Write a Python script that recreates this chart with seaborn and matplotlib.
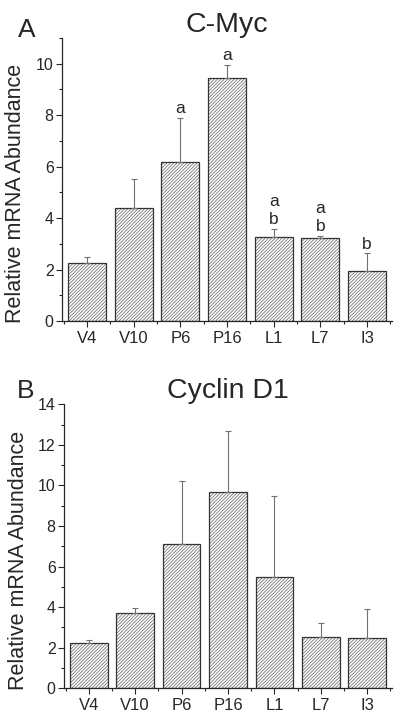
import numpy as np
import matplotlib
matplotlib.use("Agg")
import matplotlib.pyplot as plt
from matplotlib.ticker import MultipleLocator
import seaborn as sns

categories = ['V4', 'V10', 'P6', 'P16', 'L1', 'L7', 'I3']

myc_mean = [2.25, 4.41, 6.17, 9.43, 3.28, 3.23, 1.95]
myc_err = [0.22, 1.12, 1.73, 0.53, 0.31, 0.09, 0.69]
myc_letters = ['', '', 'a', 'a', 'a\nb', 'a\nb', 'b']

cyclin_mean = [2.25, 3.70, 7.11, 9.66, 5.47, 2.51, 2.46]
cyclin_err = [0.13, 0.26, 3.09, 3.02, 3.99, 0.72, 1.43]

sns.set_style("ticks")
plt.rcParams['font.family'] = ['Liberation Sans', 'DejaVu Sans']
plt.rcParams['hatch.linewidth'] = 0.55
plt.rcParams['axes.linewidth'] = 0.9


def draw_panel(ax, mean, err, title, ymax, letters=None):
    # hatch layer (gray lines) then the dark outline on top
    sns.barplot(x=categories, y=mean, ax=ax, color='white', width=0.81,
                edgecolor='#6e6e6e', linewidth=0, hatch='//////////')
    sns.barplot(x=categories, y=mean, ax=ax, fill=False, width=0.81,
                edgecolor='#333333', linewidth=0.9)
    ax.errorbar(np.arange(len(categories)), mean,
                yerr=[np.zeros(len(err)), err], fmt='none',
                ecolor='#707070', elinewidth=0.8, capsize=2.5, capthick=0.8)
    if letters is not None:
        for i, lab in enumerate(letters):
            if lab:
                ax.annotate(lab, (i, mean[i] + err[i]), xytext=(0, 1),
                            textcoords='offset points', ha='center', va='bottom',
                            fontsize=12.5, linespacing=1.3)
    ax.set_xlim(-0.535, len(categories) - 0.465)
    ax.set_ylim(0, ymax)
    ax.yaxis.set_major_locator(MultipleLocator(2))
    ax.yaxis.set_minor_locator(MultipleLocator(1))
    ax.xaxis.set_minor_locator(MultipleLocator(1, offset=0.5))
    ax.tick_params(which='major', direction='out', length=4, width=0.8, labelsize=11.5, pad=2)
    ax.tick_params(which='minor', direction='out', length=2.5, width=0.8)
    ax.tick_params(axis='x', which='major', pad=3, labelsize=12)
    sns.despine(ax=ax)
    ax.set_title(title, fontsize=20.5, pad=3)
    ax.set_ylabel('Relative mRNA Abundance', fontsize=15.5)
    ax.yaxis.set_label_coords(-0.108, 0.45)


fig = plt.figure(figsize=(4.0, 7.18), dpi=100)
ax_a = fig.add_axes([0.155, 0.553, 0.825, 0.394])
ax_b = fig.add_axes([0.160, 0.0414, 0.820, 0.3956])

draw_panel(ax_a, myc_mean, myc_err, 'C-Myc', 11, myc_letters)
draw_panel(ax_b, cyclin_mean, cyclin_err, 'Cyclin D1', 14)

fig.text(0.045, 0.9485, 'A', fontsize=19)
fig.text(0.0425, 0.4457, 'B', fontsize=19)

fig.savefig('out.png', dpi=100)
